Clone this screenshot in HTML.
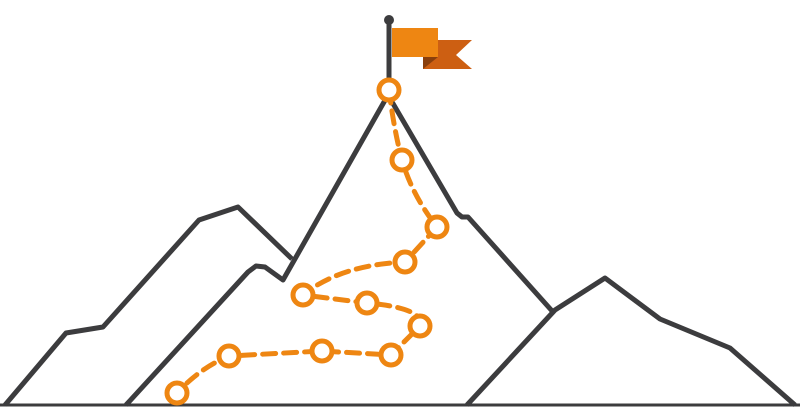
<!DOCTYPE html>
<html><head><meta charset="utf-8"><style>html,body{margin:0;padding:0;background:#fff}svg{display:block}</style></head>
<body>
<svg width="800" height="407" viewBox="0 0 800 407">
<g fill="none" stroke="#3c3c3e" stroke-width="5" stroke-linejoin="round">
<line x1="0" y1="405" x2="800" y2="405" stroke-width="3"/>
<polyline points="5,405 66,333 103,327 199,220 238,207 292,259"/>
<polyline points="126,405 248,272 256,266 265,267 283,280 388,95 457,213 462,217 468,217 553,312"/>
<polyline points="467,405 555,310 605,278 660,319 730,348 795,405"/>
</g>
<g>
<line x1="389" y1="20" x2="389" y2="90" stroke="#3c3c3e" stroke-width="5"/>
<circle cx="389" cy="20" r="5" fill="#3c3c3e"/>
<polygon points="423,40 472,40 456,55 472,69 423,69" fill="#cd5f12"/>
<polygon points="423,57 438,57 423,69" fill="#8a3f0c"/>
<rect x="392" y="28" width="46" height="29" fill="#ee8612"/>
</g>
<g fill="none" stroke="#ee8612" stroke-width="5" stroke-dasharray="13 8" stroke-linecap="round">
<path d="M389,90 Q394,130 402,160 Q412,195 437,227 L405,262 Q340,265 303,295 L367,303 Q425,308 420,326 L391,355 L322,351 L229,356 Q200,368 177,393"/>
</g>
<g fill="#fff" stroke="#ee8612" stroke-width="5">
<circle cx="389" cy="90" r="10"/>
<circle cx="402" cy="160" r="10"/>
<circle cx="437" cy="227" r="10"/>
<circle cx="405" cy="262" r="10"/>
<circle cx="303" cy="295" r="10"/>
<circle cx="367" cy="303" r="10"/>
<circle cx="420" cy="326" r="10"/>
<circle cx="391" cy="355" r="10"/>
<circle cx="322" cy="351" r="10"/>
<circle cx="229" cy="356" r="10"/>
<circle cx="177" cy="393" r="10"/>
</g>
</svg>
</body></html>
